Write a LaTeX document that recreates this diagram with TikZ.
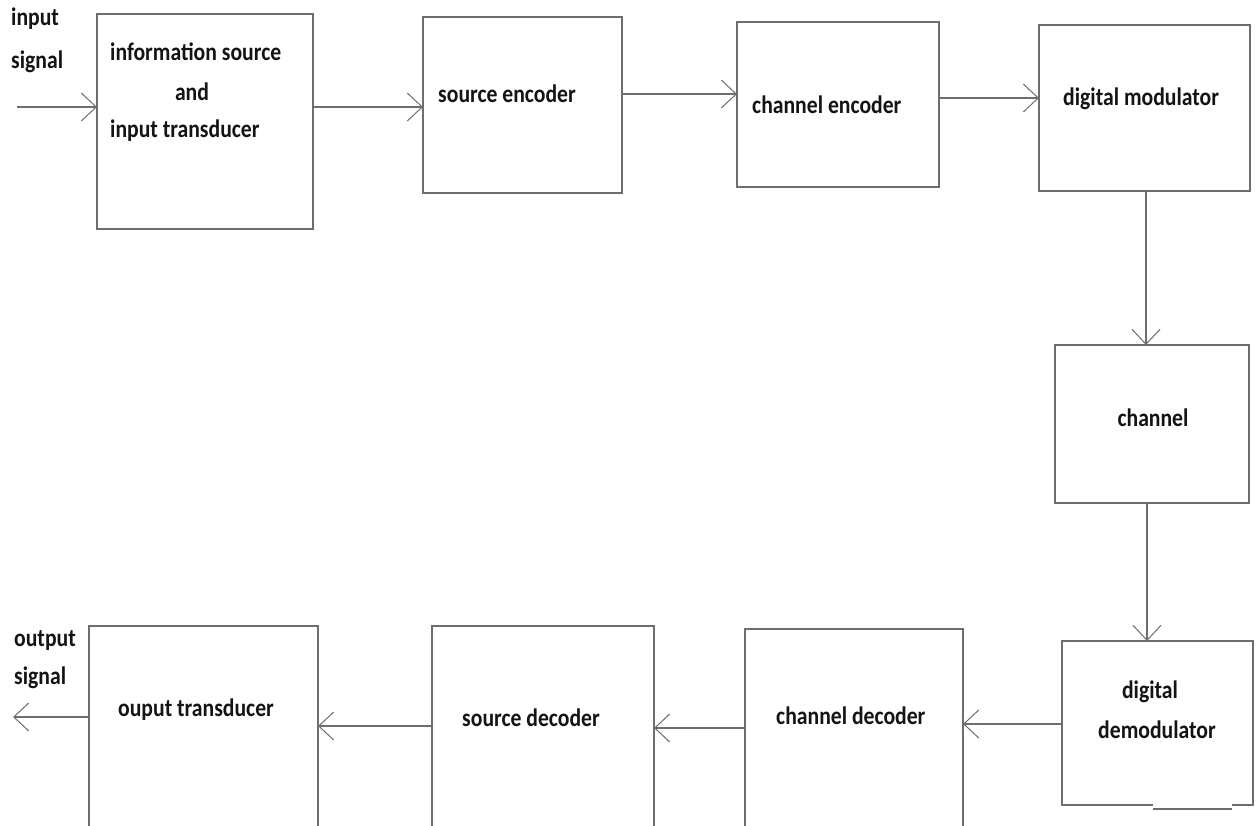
\documentclass[tikz,border=0pt]{standalone}
\usepackage{fontspec}
\setmainfont{Carlito}
\newfontfamily\lblfont{Carlito}[FakeStretch=0.86]
\usetikzlibrary{arrows.meta}
\definecolor{linegray}{HTML}{6E6E6E}
\definecolor{txt}{HTML}{141414}
\tikzset{
  blockbox/.style={draw=linegray, line width=1.6pt, inner sep=0pt, outer sep=0pt, fill=none},
  lbl/.style={inner sep=0pt, text=txt, font=\lblfont\fontsize{25.2}{30}\selectfont\bfseries, text height=17pt, text depth=5pt},
  arr/.style={draw=linegray, line width=1.6pt, -{Straight Barb[length=15pt,width=28pt,line width=1pt]}},
}
\begin{document}
\begin{tikzpicture}[x=1pt,y=-1pt]
\clip (0,0) rectangle (1258,826);
\fill[white] (0,0) rectangle (1258,826);
% boxes
\node[blockbox, minimum width=216pt, minimum height=215pt] (b1) at (205,121.5) {};
\node[blockbox, minimum width=199pt, minimum height=176pt] (b2) at (522.5,105) {};
\node[blockbox, minimum width=202pt, minimum height=165pt] (b3) at (838,104.5) {};
\node[blockbox, minimum width=211pt, minimum height=166pt] (b4) at (1144.5,108) {};
\node[blockbox, minimum width=194pt, minimum height=158pt] (b5) at (1152,424) {};
\node[blockbox, minimum width=191pt, minimum height=164pt] (b6) at (1157.5,723) {};
\node[blockbox, minimum width=218pt, minimum height=211pt] (b7) at (854,734.5) {};
\node[blockbox, minimum width=222pt, minimum height=214pt] (b8) at (543,733) {};
\node[blockbox, minimum width=229pt, minimum height=214pt] (b9) at (203.5,733) {};
% notch at bottom of demodulator
\coordinate (n1) at (1153,805);
\coordinate (n2) at (1232,805);
\draw[white, line width=2.4pt] (n1) -- (n2);
\draw[linegray, line width=1.6pt] ([yshift=-4pt]n1) -- ([yshift=-4pt]n2);
% texts
\node[lbl, anchor=west] (tin1) at (11,20) {input};
\node[lbl, anchor=west] (tin2) at (11,63) {signal};
\node[lbl, anchor=west] (t1a) at (110,55) {information source};
\node[lbl] (t1b) at (192,95) {and};
\node[lbl, anchor=west] (t1c) at (110,132) {input transducer};
\node[lbl, anchor=west] (t2) at (438,97) {source encoder};
\node[lbl, anchor=west] (t3) at (752,108) {channel encoder};
\node[lbl, anchor=west] (t4) at (1063,100) {digital modulator};
\node[lbl] (t5) at (1153,420) {channel};
\node[lbl] (t6a) at (1150,692) {digital};
\node[lbl] (t6b) at (1157,732) {demodulator};
\node[lbl, anchor=west] (t7) at (776,718) {channel decoder};
\node[lbl, anchor=west] (t8) at (462,720) {source decoder};
\node[lbl, anchor=west] (t9) at (118,710) {ouput transducer};
\node[lbl, anchor=west] (tout1) at (14,640) {output};
\node[lbl, anchor=west] (tout2) at (14,678) {signal};
% connectors
\coordinate (cin) at (17,107);
\coordinate (cout) at (13,717);
\draw[arr] (cin) -- (cin -| b1.west);
\draw[arr] (b1.east |- cin) -- (b2.west |- cin);
\draw[arr] (b2.east |- 0,94) -- (b3.west |- 0,94);
\draw[arr] (b3.east |- 0,98) -- (b4.west |- 0,98);
\draw[arr] (b4.south -| 1146,0) -- (b5.north -| 1146,0);
\draw[arr] (b5.south -| 1147,0) -- (b6.north -| 1147,0);
\draw[arr] (b6.west |- 0,724) -- (b7.east |- 0,724);
\draw[arr] (b7.west |- 0,728) -- (b8.east |- 0,728);
\draw[arr] (b8.west |- 0,726) -- (b9.east |- 0,726);
\draw[arr] (b9.west |- cout) -- (cout);
\end{tikzpicture}
\end{document}
